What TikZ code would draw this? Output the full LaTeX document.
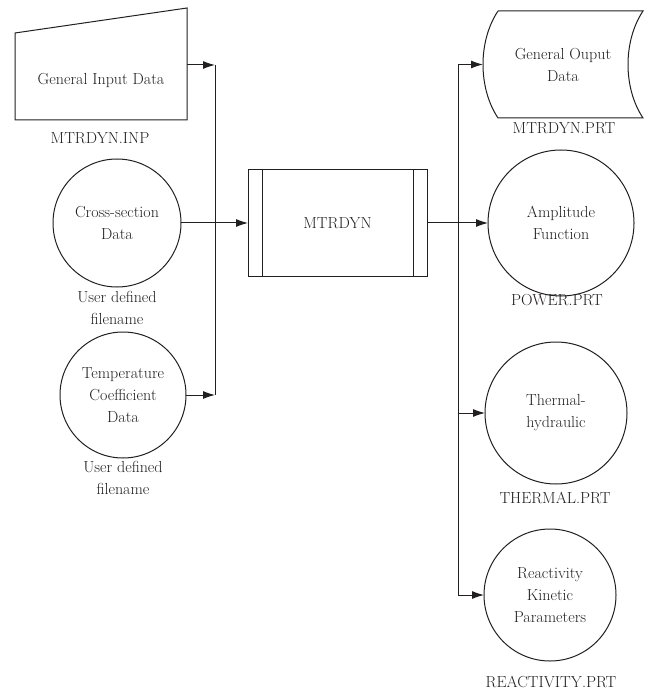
\documentclass[tikz,border=0pt]{standalone}
\usepackage{fontspec}
\usetikzlibrary{calc}
\usetikzlibrary{shapes,arrows.meta}
\definecolor{ink}{HTML}{231F20}

\begin{document}
\begin{tikzpicture}[x=1pt,y=-1pt, line width=1pt, color=ink,
  every node/.style={font=\fontsize{16}{22}\selectfont, text=ink}]


 \tikzset{
    disk/.style={
      circle,
      draw,
      align=center,
      inner sep=0mm,
      outer sep=0mm
    },
    frame/.style={
      rectangle,
      inner sep=0mm,
      outer sep=0mm
    },
    arr/.style={-{Latex[length=12pt,width=8pt]}}
  }

\useasboundingbox (0,0) rectangle (647,692);

% inputs
\node[frame, minimum width=172pt, minimum height=80pt] (inp) at (101,80) {General Input Data};
\draw (inp.south west) -- (inp.south east) -- ($(inp.north east)+(0,-32)$)
      -- ($(inp.north west)+(0,-7)$) -- cycle;
\node[disk, minimum size=128pt] (cross) at (117,223) {Cross-section\\Data};
\node[disk, minimum size=126pt] (temp) at (123,395) {Temperature\\Coefficient\\Data};

\node at (100,138) {MTRDYN.INP};
\node[align=center] at (117,308) {User defined\\filename};
\node[align=center] at (123,478) {User defined\\filename};

% code
\node[frame, draw, minimum width=179pt, minimum height=106pt] (mtr) at (337.5,223) {MTRDYN};
\draw ($(mtr.north west)+(14,0)$) -- ($(mtr.south west)+(14,0)$);
\draw ($(mtr.north east)+(-14,0)$) -- ($(mtr.south east)+(-14,0)$);

% outputs
\node[frame, minimum width=160pt, minimum height=107pt, align=center] (gout) at (563,64.5) {General Ouput\\Data};
\draw ($(gout.north west)+(15,0)$) -- (gout.north east)
      .. controls +(-20,30) and +(-20,-30) .. (gout.south east)
      -- ($(gout.south west)+(15,0)$)
      .. controls +(-20,-30) and +(-20,30) .. ($(gout.north west)+(15,0)$);
\node[disk, minimum size=146pt] (amp) at (561,223) {Amplitude\\Function};
\node[disk, minimum size=142pt] (therm) at (556,413) {Thermal-\\hydraulic};
\node[disk, minimum size=132pt] (react) at (550,595) {Reactivity\\Kinetic\\Parameters};

\node at (564,128) {MTRDYN.PRT};
\node at (557,300) {POWER.PRT};
\node at (555,498) {THERMAL.PRT};
\node at (551,682) {REACTIVITY.PRT};

% left bus
\coordinate (ltop) at (215,65);
\draw[arr] (inp.east |- ltop) -- (ltop);
\draw[arr] (temp.east) -- (temp.east -| ltop);
\draw (ltop) -- (temp.east -| ltop);
\draw[arr] (cross.east) -- (mtr.west);

% right bus
\coordinate (rbx) at (458,0);
\draw (mtr.east) -- (mtr.east -| rbx);
\draw (gout.west -| rbx) -- (react.west -| rbx);
\draw[arr] (gout.west -| rbx) -- (gout.west);
\draw[arr] (amp.west -| rbx) -- (amp.west);
\draw[arr] (therm.west -| rbx) -- (therm.west);
\draw[arr] (react.west -| rbx) -- (react.west);

\end{tikzpicture}
\end{document}
